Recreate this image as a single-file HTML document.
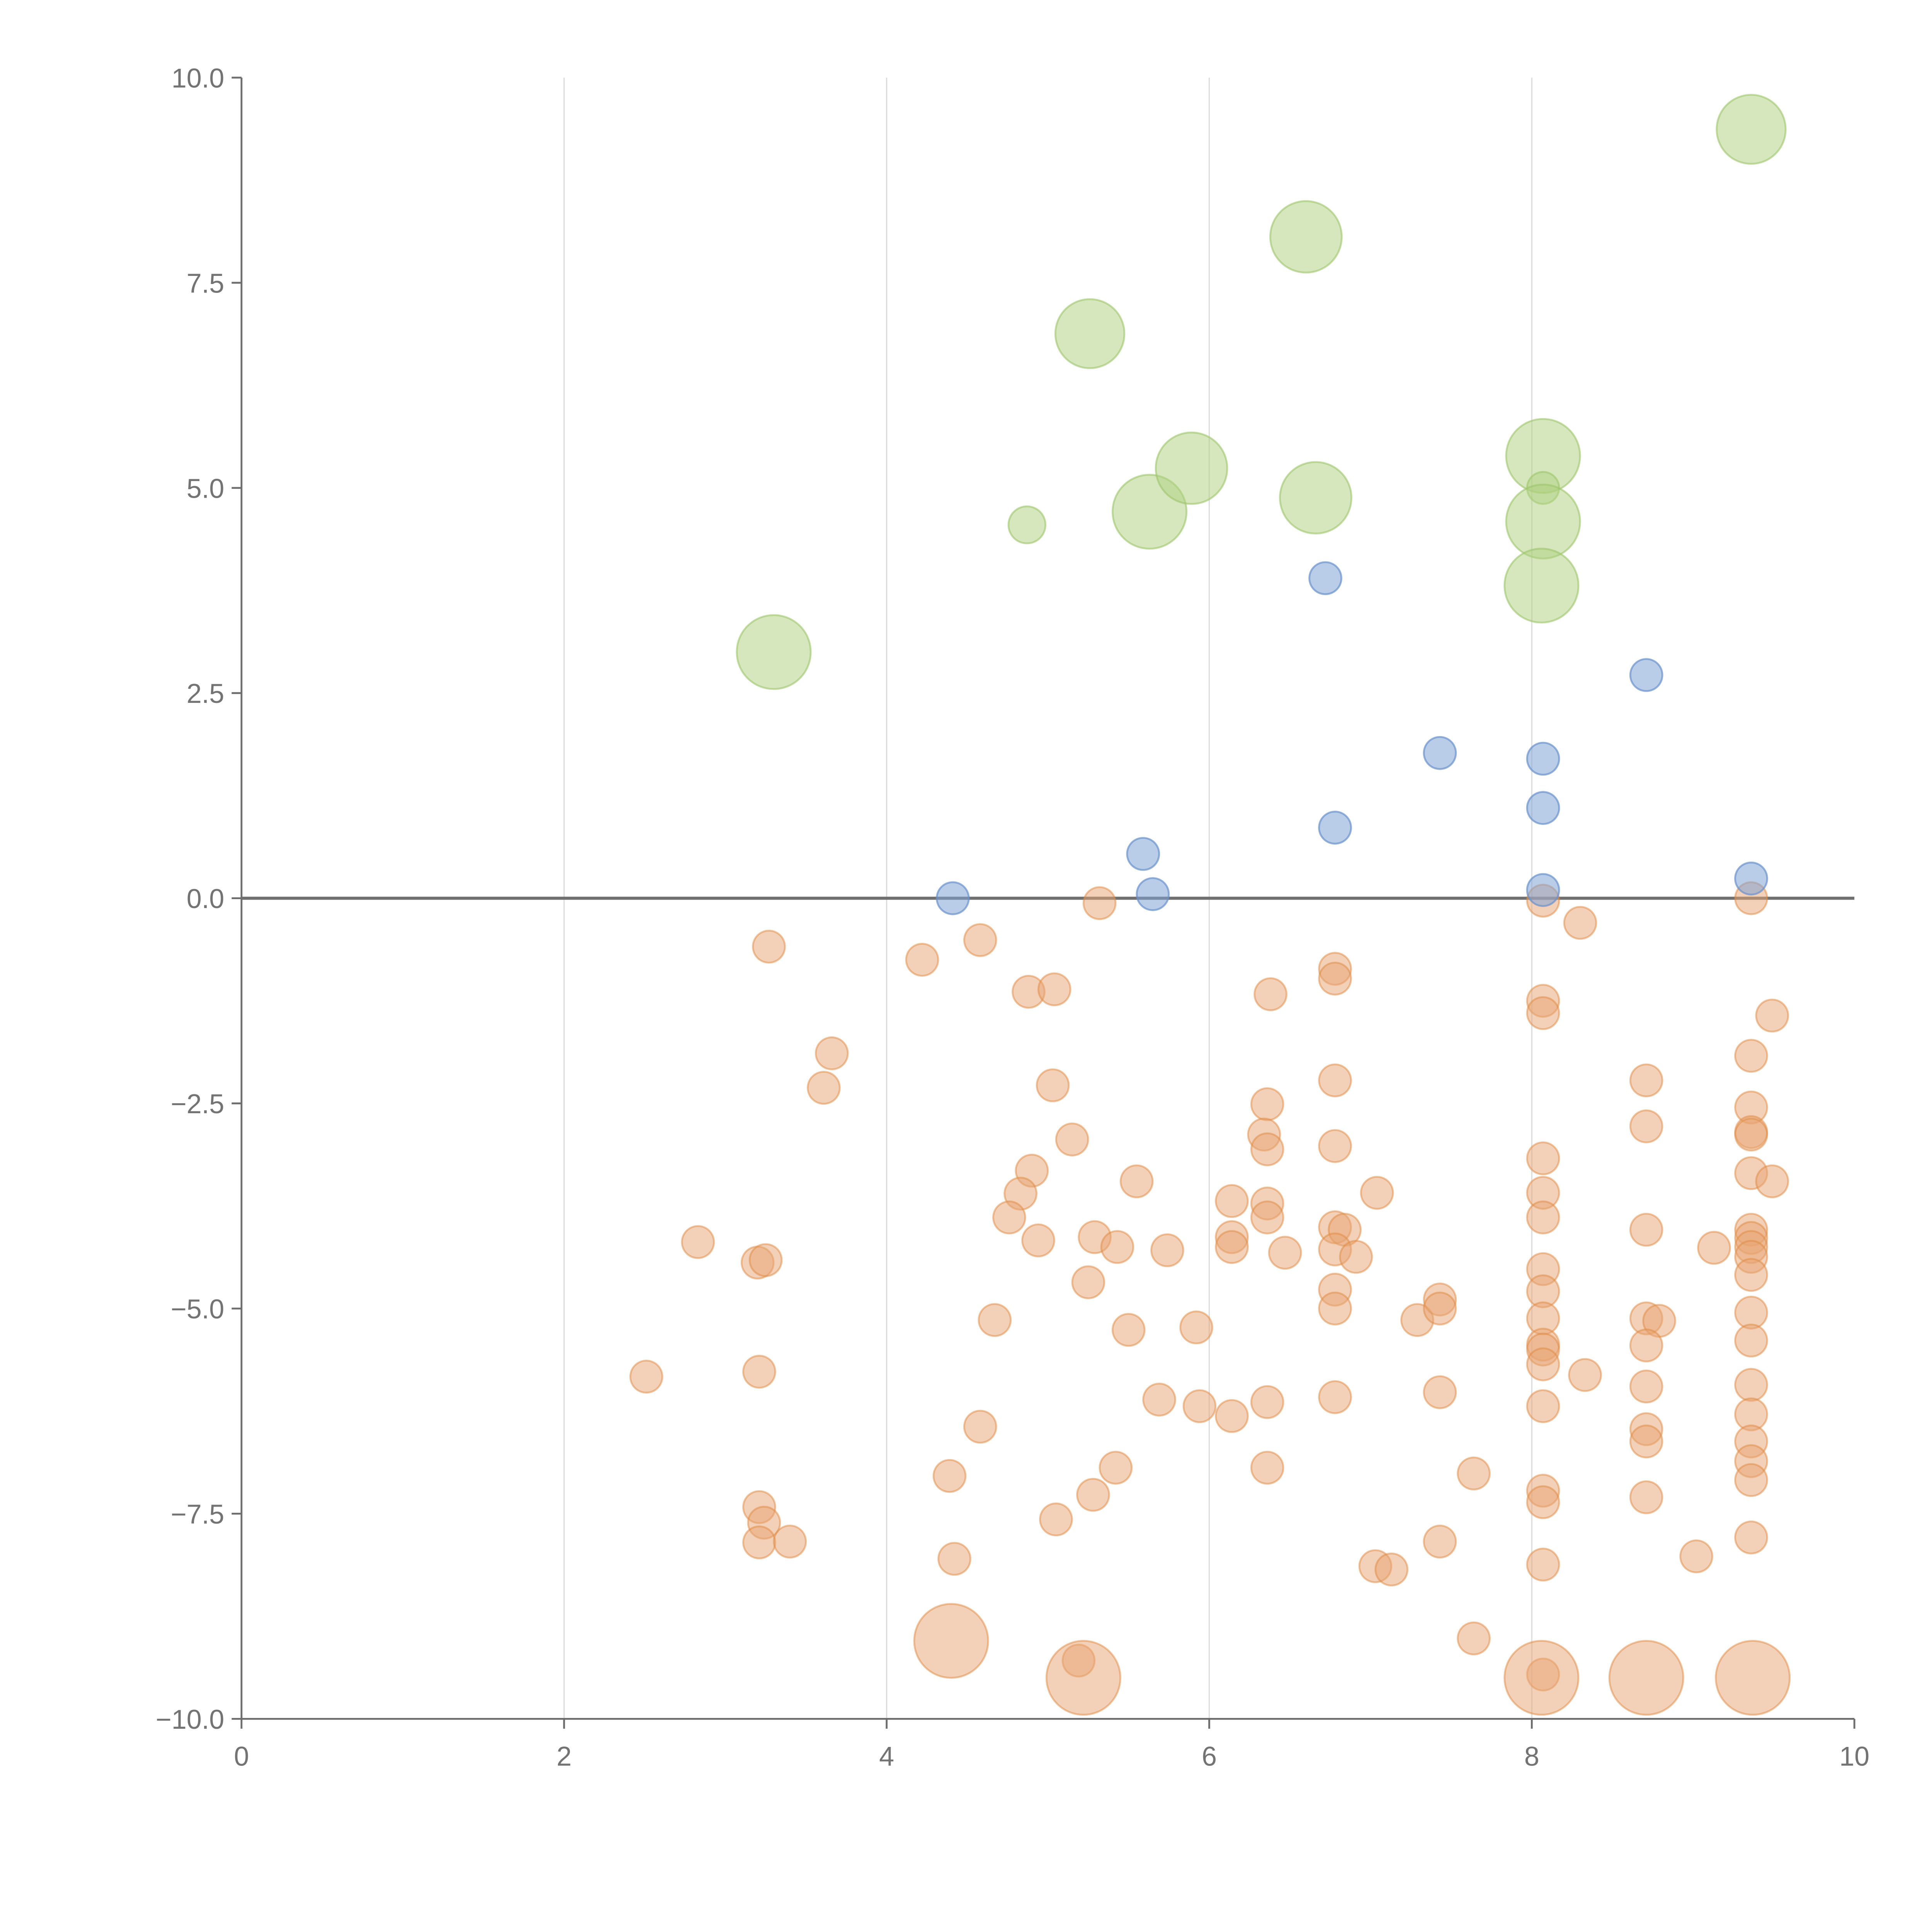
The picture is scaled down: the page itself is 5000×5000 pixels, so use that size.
<!DOCTYPE html>
<html><head><meta charset="utf-8"><style>
html,body{margin:0;padding:0;background:#fff;}
svg{display:block;}
text{font-family:"Liberation Sans",sans-serif;fill:#737373;font-size:22px;}
</style></head><body>
<svg id="chart" width="5000" height="5000" viewBox="0 0 1568 1568" xmlns="http://www.w3.org/2000/svg">
<g id="grid"></g>
<g id="axes"></g>
<g id="marks"></g>
</svg>
<script>
const xTicks=[0,2,4,6,8,10];
const yTicks=[-10,-7.5,-5,-2.5,0,2.5,5,7.5,10];
const yTickLabels=["\u221210.0","\u22127.5","\u22125.0","\u22122.5","0.0","2.5","5.0","7.5","10.0"];
const greenX=[3.30,4.87,5.26,5.63,5.89,6.60,6.66,8.07,8.07,8.07,8.06,9.36];
const greenY=[3.0,4.55,6.88,4.71,5.24,8.06,4.88,5.39,5.0,4.59,3.81,9.37];
const greenSize=[30,15,28,30,29,29,29,30,13,30,30,28];
const blueX=[4.41,5.59,5.65,6.72,6.78,7.43,8.07,8.07,8.07,8.71,9.36];
const blueY=[0,0.54,0.05,3.9,0.86,1.77,1.70,1.10,0.1,2.72,0.24];
const orangeX=[3.27,2.51,2.83,3.20,3.25,3.21,3.21,3.24,3.21,3.40,3.66,3.61,4.22,4.58,4.88,5.04,5.03,5.15,4.90,4.83,4.76,4.94,5.32,5.29,5.43,5.25,5.55,5.74,4.67,5.50,5.92,5.69,5.94,6.14,4.58,4.39,5.42,5.28,5.05,4.42,6.14,6.14,6.14,6.38,6.36,6.34,6.36,6.36,6.36,6.47,6.36,6.36,6.78,6.78,6.78,6.78,6.78,6.84,6.78,6.91,6.78,6.78,6.78,7.04,7.29,7.43,7.43,7.43,7.43,7.64,7.03,7.13,7.64,8.07,8.30,8.07,8.07,8.07,8.07,8.07,8.07,8.07,8.07,8.07,8.07,8.07,8.07,8.07,8.07,8.07,8.07,8.33,8.71,8.71,8.71,8.71,8.79,8.71,8.71,8.71,8.71,8.71,9.02,9.13,9.36,9.49,9.36,9.36,9.36,9.36,9.36,9.49,9.36,9.36,9.36,9.36,9.36,9.36,9.36,9.36,9.36,9.36,9.36,9.36,9.36,5.19];
const orangeY=[-0.59,-5.83,-4.19,-4.44,-4.41,-5.77,-7.42,-7.61,-7.85,-7.84,-1.89,-2.31,-0.75,-0.51,-1.14,-1.11,-2.28,-2.94,-3.32,-3.6,-3.89,-4.17,-0.06,-4.13,-4.25,-4.68,-3.45,-4.29,-5.14,-5.26,-5.23,-6.11,-6.19,-6.31,-6.44,-7.04,-6.94,-7.27,-7.57,-8.05,-3.69,-4.13,-4.25,-1.17,-2.51,-2.88,-3.06,-3.72,-3.89,-4.32,-6.14,-6.94,-0.86,-0.98,-2.22,-3.02,-4.01,-4.04,-4.28,-4.37,-4.77,-5.0,-6.08,-3.59,-5.14,-4.89,-5.0,-6.02,-7.84,-7.01,-8.14,-8.18,-9.02,-0.03,-0.30,-1.25,-1.40,-3.17,-3.59,-3.89,-4.52,-4.79,-5.12,-5.44,-5.5,-5.68,-6.19,-7.22,-7.36,-8.12,-9.46,-5.81,-2.22,-2.78,-4.04,-5.12,-5.15,-5.45,-5.95,-6.47,-6.62,-7.30,-8.02,-4.26,0,-1.43,-1.92,-2.55,-2.85,-2.88,-3.35,-3.45,-4.04,-4.14,-4.25,-4.37,-4.59,-5.05,-5.39,-5.93,-6.29,-6.62,-6.86,-7.09,-7.79,-9.29];
const orangeBigX=[4.40,5.22,8.06,8.71,9.37];
const orangeBigY=[-9.05,-9.5,-9.5,-9.5,-9.5];

const NS="http://www.w3.org/2000/svg";
const X0=196,X1=1505,Y0=1395,Y1=63;
function sx(v){return X0+(v-0)/(10-0)*(X1-X0);}
function sy(v){return Y0-(v+10)/20*(Y0-Y1);}
function mk(tag,attrs,parent){const e=document.createElementNS(NS,tag);for(const k in attrs)e.setAttribute(k,attrs[k]);parent.appendChild(e);return e;}
const grid=document.getElementById('grid'),axes=document.getElementById('axes'),marks=document.getElementById('marks');

xTicks.forEach(t=>{
  if(t>0&&t<10){const g=mk('line',{x1:sx(t),x2:sx(t),y1:Y1,y2:Y0,stroke:'#dcdcdc','stroke-width':1},grid);
  
  }
  const tk=mk('line',{x1:sx(t),x2:sx(t),y1:Y0,y2:Y0+8,stroke:'#6e6e6e','stroke-width':1.5},axes);
  
  
  const tx=mk('text',{x:sx(t),y:Y0+38,'text-anchor':'middle'},axes);tx.textContent=String(t);
  
  
});
yTicks.forEach((t,i)=>{
  const tk=mk('line',{x1:X0-8,x2:X0,y1:sy(t),y2:sy(t),stroke:'#6e6e6e','stroke-width':1.5},axes);
  
  
  const tx=mk('text',{x:X0-14,y:sy(t)+8,'text-anchor':'end'},axes);tx.textContent=yTickLabels[i];
  
  
});
let l=mk('line',{x1:X0,x2:X0,y1:Y1,y2:Y0,stroke:'#6e6e6e','stroke-width':1.5},axes);


l=mk('line',{x1:X0,x2:X1,y1:Y0,y2:Y0,stroke:'#6e6e6e','stroke-width':1.5},axes);



orangeX.forEach((x,i)=>{
  const c=mk('circle',{cx:sx(x),cy:sy(orangeY[i]),r:13,fill:'#e8a472','fill-opacity':0.5,stroke:'#e08a42','stroke-opacity':0.5,'stroke-width':1.5},marks);
  
  
});
orangeBigX.forEach((x,i)=>{
  const c=mk('circle',{cx:sx(x),cy:sy(orangeBigY[i]),r:30,fill:'#e8a472','fill-opacity':0.5,stroke:'#e08a42','stroke-opacity':0.5,'stroke-width':1.5},marks);
  
  
});
blueX.forEach((x,i)=>{
  const c=mk('circle',{cx:sx(x),cy:sy(blueY[i]),r:13,fill:'#7fa3d6','fill-opacity':0.55,stroke:'#6a92cc','stroke-opacity':0.7,'stroke-width':1.5},marks);
  
  
});
greenX.forEach((x,i)=>{
  const c=mk('circle',{cx:sx(x),cy:sy(greenY[i]),r:greenSize[i],fill:'#add07e','fill-opacity':0.5,stroke:'#9cc46a','stroke-opacity':0.6,'stroke-width':1.5},marks);
  
  
});
l=mk('line',{x1:X0,x2:X1,y1:sy(0),y2:sy(0),stroke:'#707070','stroke-width':2.5},axes);


</script>
</body></html>
